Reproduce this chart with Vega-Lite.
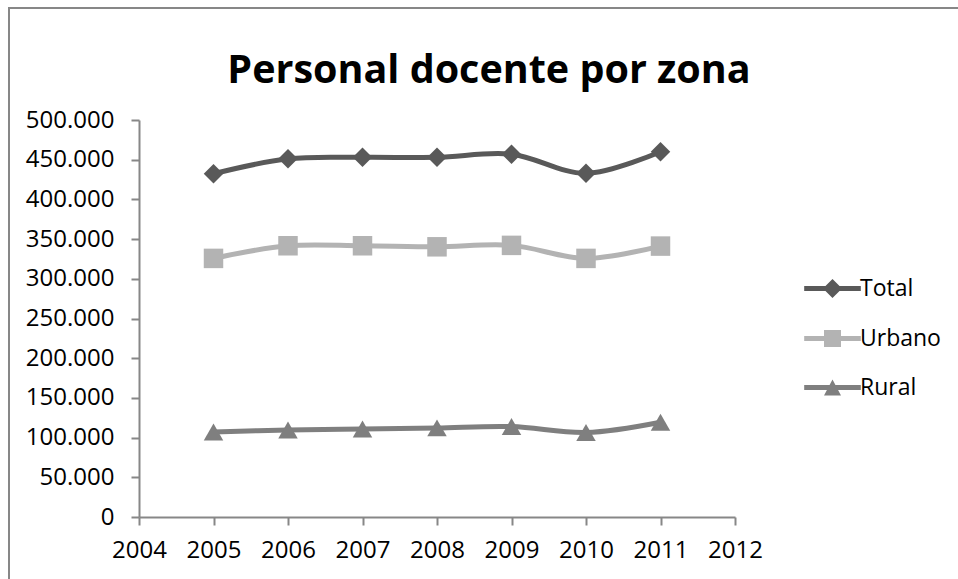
{
  "$schema": "https://vega.github.io/schema/vega-lite/v6.json",
  "autosize": {"type": "none"},
  "width": 596,
  "height": 397,
  "padding": {"left": 139, "top": 120, "right": 223, "bottom": 62},
  "background": "white",
  "config": {
    "font": "Open Sans",
    "view": {"stroke": null},
    "locale": {"number": {"decimal": ",", "thousands": ".", "grouping": [3], "currency": ["", ""]}},
    "axis": {
      "grid": false,
      "domainColor": "#878787",
      "domainWidth": 2,
      "tickColor": "#878787",
      "tickWidth": 2,
      "tickSize": 8,
      "labelFont": "Open Sans",
      "labelFontSize": 24,
      "labelColor": "#000000",
      "title": null
    }
  },
  "title": {
    "text": "Personal docente por zona",
    "font": "Open Sans",
    "fontSize": 39.5,
    "fontWeight": "bold",
    "color": "#000000",
    "anchor": "middle",
    "frame": "group",
    "baseline": "alphabetic",
    "dx": 52,
    "dy": 115,
    "offset": 0
  },
  "data": {
    "values": [
      {"year": 2005, "serie": "Total", "value": 432300},
      {"year": 2006, "serie": "Total", "value": 451100},
      {"year": 2007, "serie": "Total", "value": 453000},
      {"year": 2008, "serie": "Total", "value": 453000},
      {"year": 2009, "serie": "Total", "value": 456900},
      {"year": 2010, "serie": "Total", "value": 432800},
      {"year": 2011, "serie": "Total", "value": 460000},
      {"year": 2005, "serie": "Urbano", "value": 325700},
      {"year": 2006, "serie": "Urbano", "value": 341600},
      {"year": 2007, "serie": "Urbano", "value": 341600},
      {"year": 2008, "serie": "Urbano", "value": 340300},
      {"year": 2009, "serie": "Urbano", "value": 342100},
      {"year": 2010, "serie": "Urbano", "value": 325700},
      {"year": 2011, "serie": "Urbano", "value": 341200},
      {"year": 2005, "serie": "Rural", "value": 107100},
      {"year": 2006, "serie": "Rural", "value": 109500},
      {"year": 2007, "serie": "Rural", "value": 110800},
      {"year": 2008, "serie": "Rural", "value": 112200},
      {"year": 2009, "serie": "Rural", "value": 113900},
      {"year": 2010, "serie": "Rural", "value": 106400},
      {"year": 2011, "serie": "Rural", "value": 119400}
    ]
  },
  "encoding": {
    "x": {
      "field": "year",
      "type": "quantitative",
      "scale": {"domain": [2004, 2012], "nice": false, "zero": false},
      "axis": {"values": [2004, 2005, 2006, 2007, 2008, 2009, 2010, 2011, 2012], "format": "d", "labelPadding": 13, "labelFlush": false}
    },
    "y": {
      "field": "value",
      "type": "quantitative",
      "scale": {"domain": [0, 500000], "nice": false},
      "axis": {"values": [0, 50000, 100000, 150000, 200000, 250000, 300000, 350000, 400000, 450000, 500000], "format": ",d", "labelPadding": 17}
    }
  },
  "layer": [
    {
      "mark": {"type": "line", "interpolate": "cardinal", "strokeWidth": 5},
      "encoding": {
        "color": {
          "field": "serie",
          "type": "nominal",
          "scale": {"domain": ["Total", "Urbano", "Rural"], "range": ["#595959", "#B3B3B3", "#7F7F7F"]},
          "legend": {
            "title": null,
            "orient": "none",
            "legendX": -130,
            "legendY": -112,
            "padding": 480,
            "strokeColor": "#878787",
            "symbolOpacity": 0,
            "labelOpacity": 0,
            "labelFontSize": 4,
            "symbolSize": 4,
            "encode": {"legend": {"update": {"strokeWidth": {"value": 2}}}}
          }
        }
      }
    },
    {
      "mark": {"type": "point", "filled": true, "opacity": 1, "size": 380},
      "encoding": {
        "color": {
          "field": "serie",
          "type": "nominal",
          "scale": {"domain": ["Total", "Urbano", "Rural"], "range": ["#595959", "#B3B3B3", "#7F7F7F"]},
          "legend": null
        },
        "shape": {
          "field": "serie",
          "type": "nominal",
          "scale": {"domain": ["Total", "Urbano", "Rural"], "range": ["diamond", "square", "triangle-up"]},
          "legend": null
        }
      }
    },
    {
      "mark": {"type": "point", "filled": true, "opacity": 0, "size": 289},
      "encoding": {
        "color": {
          "field": "serie",
          "type": "nominal",
          "scale": {"domain": ["Total", "Urbano", "Rural"], "range": ["#595959", "#B3B3B3", "#7F7F7F"]},
          "legend": {
            "title": null,
            "orient": "none",
            "legendX": 682,
            "legendY": 157,
            "padding": 0,
            "symbolSize": 289,
            "symbolOpacity": 1,
            "labelFont": "Open Sans",
            "labelFontSize": 23,
            "labelColor": "#000000",
            "labelOffset": 16,
            "rowPadding": 25
          }
        },
        "shape": {
          "field": "serie",
          "type": "nominal",
          "scale": {
            "domain": ["Total", "Urbano", "Rural"],
            "range": [
              "M-3.33,-0.3H3.33V0.3H-3.33Z M0,-1.12L1.12,0L0,1.12L-1.12,0Z",
              "M-3.33,-0.3H3.33V0.3H-3.33Z M-1,-1H1V1H-1Z",
              "M-3.33,-0.3H3.33V0.3H-3.33Z M0,-0.95L1,0.95H-1Z"
            ]
          },
          "legend": {
            "title": null,
            "orient": "none",
            "legendX": 682,
            "legendY": 157,
            "padding": 0,
            "symbolSize": 289,
            "symbolOpacity": 1,
            "labelFont": "Open Sans",
            "labelFontSize": 23,
            "labelColor": "#000000",
            "labelOffset": 16,
            "rowPadding": 25
          }
        }
      }
    }
  ],
  "resolve": {
    "scale": {"color": "independent", "shape": "independent"},
    "legend": {"color": "independent", "shape": "independent"}
  }
}
